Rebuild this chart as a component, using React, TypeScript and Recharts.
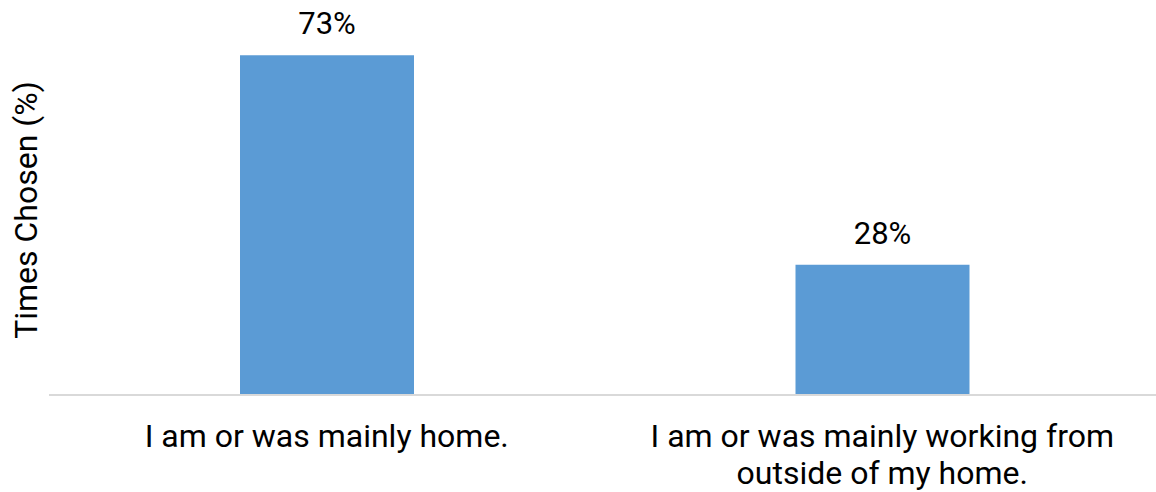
import { Bar, BarChart, LabelList, XAxis, YAxis } from "recharts";

const categories = [
  "I am or was mainly home.",
  "I am or was mainly working from outside of my home.",
];
const timesChosen = [73, 28];
const yAxisTitle = "Times Chosen (%)";

const data = categories.map((name, i) => ({ name, value: timesChosen[i] }));

const FONT = "Roboto, 'Open Sans', sans-serif";
const MAX_CHARS = 32;

// simple word wrap by character count
function wrap(label: string): string[] {
  const lines: string[] = [];
  let cur = "";
  for (const w of label.split(" ")) {
    const next = cur ? `${cur} ${w}` : w;
    if (next.length > MAX_CHARS && cur) {
      lines.push(cur);
      cur = w;
    } else {
      cur = next;
    }
  }
  if (cur) lines.push(cur);
  return lines;
}

type TickProps = {
  x?: number;
  y?: number;
  payload?: { value: string };
};

function CategoryTick({ x = 0, y = 0, payload }: TickProps) {
  const lines = wrap(payload?.value ?? "");
  return (
    <text
      x={x}
      y={y + 52}
      textAnchor="middle"
      fill="#000"
      style={{ fontSize: 32, fontFamily: FONT }}
    >
      {lines.map((ln, i) => (
        <tspan key={i} x={x} dy={i === 0 ? 0 : 37}>
          {ln}
        </tspan>
      ))}
    </text>
  );
}

type AxisLabelProps = {
  viewBox?: { x: number; y: number; width: number; height: number };
};

function AxisTitle({ viewBox }: AxisLabelProps) {
  if (!viewBox) return null;
  const cx = 37;
  const cy = viewBox.y + viewBox.height / 2;
  return (
    <text
      x={cx}
      y={cy}
      textAnchor="middle"
      transform={`rotate(-90, ${cx}, ${cy})`}
      fill="#000"
      style={{ fontSize: 32, fontFamily: FONT }}
    >
      {yAxisTitle}
    </text>
  );
}

export default function App() {
  return (
    <div
      style={{
        position: "absolute",
        left: 0,
        top: 0,
        width: 1156,
        height: 492,
        overflow: "hidden",
        background: "#fff",
        fontFamily: FONT,
      }}
    >
      <BarChart
        width={1160}
        height={492}
        data={data}
        margin={{ top: 25, right: 0, left: 0, bottom: 0 }}
        barCategoryGap={0}
      >
        <XAxis
          dataKey="name"
          height={97}
          tickLine={false}
          tickSize={0}
          tickMargin={0}
          axisLine={{ stroke: "#d9d9d9", strokeWidth: 2 }}
          tick={(props: TickProps) => <CategoryTick {...props} />}
          interval={0}
        />
        <YAxis
          width={49}
          domain={[0, 79.5]}
          axisLine={false}
          tickLine={false}
          tick={false}
          label={<AxisTitle />}
        />
        <Bar
          dataKey="value"
          fill="#5b9bd5"
          barSize={174}
          isAnimationActive={false}
        >
          <LabelList
            dataKey="value"
            position="top"
            offset={21}
            formatter={(v: unknown) => `${v}%`}
            fill="#000"
            style={{ fontSize: 31, fontFamily: FONT }}
          />
        </Bar>
      </BarChart>
    </div>
  );
}
